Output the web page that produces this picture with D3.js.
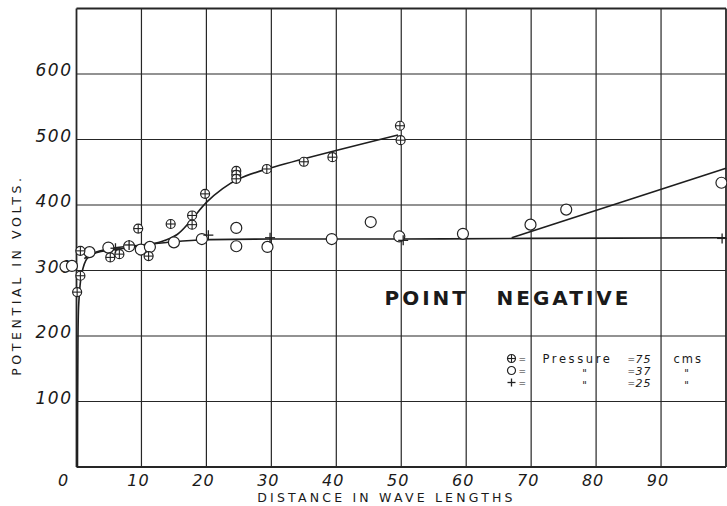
<!DOCTYPE html>
<html>
<head>
<meta charset="utf-8">
<script src="https://cdn.jsdelivr.net/npm/d3@7"></script>
<style>
  body { margin: 0; background: #fff; }
  text { font-family: "DejaVu Sans", sans-serif; fill: #1a1a1a; }
</style>
</head>
<body>
<script>
var margin = {left: 76.5, top: 8.5, right: 1, bottom: 39},
    width = 727 - margin.left - margin.right,
    height = 506 - margin.top - margin.bottom;

// tick values
var xTicks = [0, 10, 20, 30, 40, 50, 60, 70, 80, 90];
var yTicks = [100, 200, 300, 400, 500, 600];

// observations, [distance, volts]
var press75 = [
    [0.1, 267], [0.6, 292], [0.6, 330], [5.2, 320], [6.6, 325], [9.5, 364],
    [11.1, 322], [14.5, 371], [17.8, 384], [17.8, 370], [19.8, 417],
    [24.6, 452], [24.6, 446], [24.6, 440], [29.3, 455], [35, 466],
    [39.4, 473], [49.8, 521], [49.9, 499]
];
var press37 = [
    [-1.7, 306], [-0.7, 307], [2, 328], [4.9, 335], [8.1, 337], [9.9, 332],
    [11.3, 336], [15, 343], [19.3, 348], [24.6, 365], [24.6, 337], [29.4, 336],
    [39.3, 348], [45.3, 374], [49.7, 352], [59.5, 356], [69.9, 370],
    [75.4, 393], [99.3, 434]
];
var press25 = [
    [6, 334], [8.1, 339], [20.3, 354], [29.8, 350], [50.3, 346], [99.4, 349]
];

// drawn curves
var curveHigh = [
    [0.15, 0], [0.2, 150], [0.35, 250], [0.8, 295], [1.6, 318], [3, 327],
    [6, 332], [10, 338], [13, 344], [15.5, 355], [17.5, 375], [20, 404],
    [22.5, 425], [25, 440], [29.3, 455], [49.5, 507]
];
var curveFlat = [
    [1.2, 318], [2.5, 326], [5, 333], [8, 337], [11, 340], [15, 344],
    [20, 347], [30, 348], [50, 348], [70, 349], [100, 350]
];
var curveRise = [[67, 350], [100, 456]];

var svg = d3.select("body").append("svg")
        .attr("width", 727)
        .attr("height", 506)
    .append("g")
        .attr("transform", "translate(" + margin.left + "," + margin.top + ")");

var x = d3.scaleLinear().domain([0, 100]).range([0, width]);
var y = d3.scaleLinear().domain([0, 700]).range([height, 0]);

// grid
svg.append("g")
    .selectAll("line")
    .data(d3.range(0, 101, 10))
    .enter().append("line")
        .attr("x1", d => x(d)).attr("x2", d => x(d))
        .attr("y1", 0).attr("y2", height)
        .style("stroke", "#262626")
        .style("stroke-width", d => (d == 0 || d == 100) ? 1.8 : 1.2);
svg.append("g")
    .selectAll("line")
    .data(d3.range(0, 701, 100))
    .enter().append("line")
        .attr("x1", 0).attr("x2", width)
        .attr("y1", d => y(d)).attr("y2", d => y(d))
        .style("stroke", "#262626")
        .style("stroke-width", d => (d == 0 || d == 700) ? 1.8 : 1.2);

// tick labels
svg.append("g")
    .selectAll("text")
    .data(xTicks)
    .enter().append("text")
        .attr("x", d => d == 0 ? x(d) - 13 : x(d) - 3)
        .attr("y", height + 19)
        .attr("text-anchor", "middle")
        .style("font-size", "16px")
        .style("font-style", "italic")
        .style("letter-spacing", "1px")
        .text(d => d);
svg.append("g")
    .selectAll("text")
    .data(yTicks)
    .enter().append("text")
        .attr("x", -4)
        .attr("y", d => y(d) + 2)
        .attr("text-anchor", "end")
        .style("font-size", "17px")
        .style("font-style", "italic")
        .style("letter-spacing", "1.5px")
        .text(d => d);

// axis titles
svg.append("text")
    .attr("x", 310)
    .attr("y", height + 35)
    .attr("text-anchor", "middle")
    .style("font-size", "12.5px")
    .style("letter-spacing", "3.2px")
    .text("DISTANCE  IN  WAVE  LENGTHS");
svg.append("text")
    .attr("transform", "translate(" + (-56) + "," + y(293) + ") rotate(-90)")
    .attr("text-anchor", "middle")
    .style("font-size", "12.5px")
    .style("letter-spacing", "3.6px")
    .text("POTENTIAL  IN  VOLTS.");

// curves
var line = d3.line()
    .x(d => x(d[0]))
    .y(d => y(d[1]))
    .curve(d3.curveCatmullRom.alpha(0.5));
[curveHigh, curveFlat, curveRise].forEach(function(c) {
    svg.append("path")
        .datum(c)
        .attr("d", line)
        .style("fill", "none")
        .style("stroke", "#1e1e1e")
        .style("stroke-width", 1.6);
});

// markers
function crossed(g, r) {
    g.append("circle").attr("r", r)
        .style("fill", "#fff").style("stroke", "#222").style("stroke-width", 1.2);
    g.append("line").attr("x1", -r).attr("x2", r)
        .style("stroke", "#222").style("stroke-width", 1.1);
    g.append("line").attr("y1", -r).attr("y2", r)
        .style("stroke", "#222").style("stroke-width", 1.1);
}
function ring(g, r) {
    g.append("circle").attr("r", r)
        .style("fill", "#fff").style("stroke", "#222").style("stroke-width", 1.2);
}
function plus(g, r) {
    g.append("line").attr("x1", -r).attr("x2", r)
        .style("stroke", "#222").style("stroke-width", 1.3);
    g.append("line").attr("y1", -r).attr("y2", r)
        .style("stroke", "#222").style("stroke-width", 1.3);
}

svg.selectAll(".p37")
    .data(press37)
    .enter().append("g")
        .attr("class", "p37")
        .attr("transform", d => "translate(" + x(d[0]) + "," + y(d[1]) + ")")
        .each(function() { ring(d3.select(this), 5.5); });
svg.selectAll(".p75")
    .data(press75)
    .enter().append("g")
        .attr("class", "p75")
        .attr("transform", d => "translate(" + x(d[0]) + "," + y(d[1]) + ")")
        .each(function() { crossed(d3.select(this), 4.5); });
svg.selectAll(".p25")
    .data(press25)
    .enter().append("g")
        .attr("class", "p25")
        .attr("transform", d => "translate(" + x(d[0]) + "," + y(d[1]) + ")")
        .each(function() { plus(d3.select(this), 5); });

// title in the plot
svg.append("text")
    .attr("x", 308)
    .attr("y", 296)
    .style("font-size", "20px")
    .style("font-weight", "bold")
    .style("letter-spacing", "3px")
    .text("POINT");
svg.append("text")
    .attr("x", 420)
    .attr("y", 296)
    .style("font-size", "20px")
    .style("font-weight", "bold")
    .style("letter-spacing", "3px")
    .text("NEGATIVE");

// legend
var legendRows = [
    {mark: crossed, a: "Pressure", p: "75", u: "cms"},
    {mark: ring, a: "\"", p: "37", u: "\""},
    {mark: plus, a: "\"", p: "25", u: "\""}
];
var legend = svg.selectAll(".legend")
    .data(legendRows)
    .enter().append("g")
        .attr("class", "legend")
        .attr("transform", (d, i) => "translate(435," + (350 + 12 * i) + ")");
legend.each(function(d) {
    var g = d3.select(this).append("g");
    d.mark(g, 4);
});
legend.append("text").attr("x", 7).attr("y", 3.5)
    .style("font-size", "9px").text("=");
legend.append("text")
    .attr("x", d => d.a == "Pressure" ? 31 : 73)
    .attr("y", d => d.a == "Pressure" ? 4 : 6)
    .attr("text-anchor", d => d.a == "Pressure" ? "start" : "middle")
    .style("font-size", d => d.a == "Pressure" ? "11.5px" : "10px")
    .style("letter-spacing", d => d.a == "Pressure" ? "2.6px" : "0px")
    .text(d => d.a);
legend.append("text").attr("x", 116).attr("y", 3.5)
    .style("font-size", "9px").text("=");
legend.append("text").attr("x", 124).attr("y", 4)
    .style("font-size", "11px")
    .style("font-style", "italic")
    .style("letter-spacing", "1px")
    .text(d => d.p);
legend.append("text")
    .attr("x", d => d.u == "cms" ? 162 : 175)
    .attr("y", d => d.u == "cms" ? 4 : 6)
    .attr("text-anchor", d => d.u == "cms" ? "start" : "middle")
    .style("font-size", d => d.u == "cms" ? "11.5px" : "10px")
    .style("letter-spacing", d => d.u == "cms" ? "2px" : "0px")
    .text(d => d.u);
</script>
</body>
</html>
